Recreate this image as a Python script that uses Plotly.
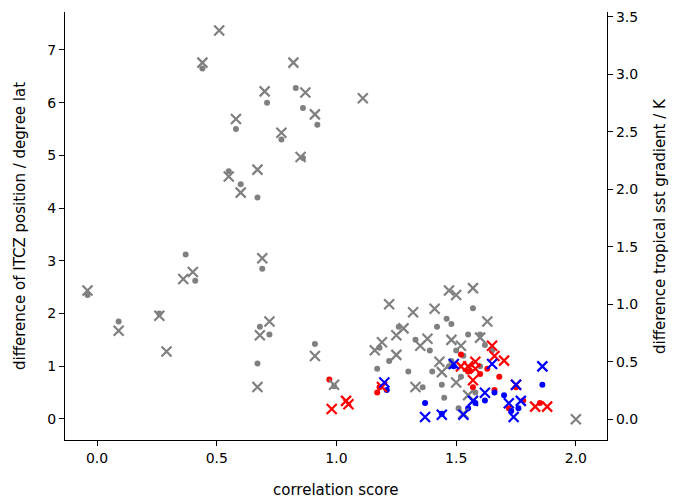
import plotly.graph_objects as go

# dots: ITCZ position difference (left axis)
gray_dot_x = [-0.04, 0.09, 0.26, 0.37, 0.41, 0.44, 0.55, 0.58, 0.60, 0.67, 0.67, 0.68, 0.71, 0.72, 0.69,
              0.77, 0.83, 0.86, 0.86, 0.92, 0.91, 0.99, 1.17, 1.18, 1.22, 1.26, 1.30, 1.33, 1.36, 1.39,
              1.42, 1.44, 1.46, 1.47, 1.48, 1.50, 1.52, 1.53, 1.55, 1.57, 1.58, 1.60, 1.62, 1.65, 1.48,
              1.51, 1.40, 1.45, 1.60, 1.55]
gray_dot_y = [2.35, 1.85, 2.0, 3.12, 2.62, 6.65, 4.7, 5.5, 4.45, 4.2, 1.05, 1.75, 6.0, 1.6, 2.85,
              5.3, 6.28, 5.9, 4.95, 5.58, 1.42, 0.62, 0.95, 1.35, 1.1, 1.75, 0.9, 1.5, 0.6, 1.3,
              1.75, 0.65, 1.9, 1.0, 1.8, 1.3, 0.8, 1.2, 1.6, 2.1, 0.5, 1.0, 1.4, 1.3, 1.1,
              0.2, 0.9, 0.4, 1.6, 0.9]
red_dot_x = [0.97, 1.17, 1.18, 1.52, 1.55, 1.60, 1.63, 1.68, 1.72, 1.75, 1.78, 1.85, 1.57, 1.66]
red_dot_y = [0.75, 0.5, 0.6, 1.22, 0.9, 0.85, 0.95, 0.8, 0.2, 0.6, 0.35, 0.3, 0.6, 0.55]
blue_dot_x = [1.37, 1.44, 1.49, 1.55, 1.58, 1.62, 1.66, 1.70, 1.73, 1.76, 1.86, 1.21]
blue_dot_y = [0.3, 0.1, 1.0, 0.2, 0.3, 0.35, 0.5, 0.45, 0.15, 0.2, 0.65, 0.55]

# crosses: tropical sst gradient difference (right axis)
gray_x_x = [-0.04, 0.09, 0.26, 0.29, 0.36, 0.40, 0.44, 0.51, 0.55, 0.58, 0.60, 0.67, 0.67, 0.69, 0.70,
            0.72, 0.68, 0.77, 0.82, 0.85, 0.87, 0.91, 0.91, 0.99, 1.11, 1.16, 1.19, 1.22, 1.25, 1.25,
            1.28, 1.32, 1.33, 1.35, 1.38, 1.41, 1.43, 1.44, 1.47, 1.48, 1.50, 1.52, 1.55, 1.57, 1.60,
            1.63, 1.50, 1.53, 2.0]
gray_x_y = [1.12, 0.77, 0.9, 0.59, 1.22, 1.28, 3.1, 3.38, 2.11, 2.61, 1.97, 2.17, 0.28, 1.4, 2.85,
            0.85, 0.73, 2.49, 3.1, 2.28, 2.84, 2.65, 0.55, 0.3, 2.79, 0.6, 0.67, 1.0, 0.73, 0.56,
            0.79, 0.93, 0.28, 0.64, 0.7, 0.96, 0.5, 0.41, 1.12, 0.69, 0.32, 0.64, 0.21, 1.14, 0.71,
            0.85, 1.08, 0.05, 0.0]
red_x_x = [0.98, 1.04, 1.05, 1.19, 1.52, 1.55, 1.57, 1.58, 1.65, 1.66, 1.70, 1.75, 1.83, 1.88, 1.58]
red_x_y = [0.09, 0.16, 0.13, 0.28, 0.46, 0.46, 0.34, 0.5, 0.64, 0.55, 0.51, 0.3, 0.11, 0.11, 0.44]
blue_x_x = [1.20, 1.37, 1.44, 1.49, 1.53, 1.57, 1.62, 1.65, 1.72, 1.74, 1.75, 1.77, 1.86]
blue_x_y = [0.32, 0.02, 0.04, 0.48, 0.04, 0.16, 0.23, 0.48, 0.14, 0.02, 0.3, 0.16, 0.46]

fig = go.Figure()
for xs, ys, c in [(gray_dot_x, gray_dot_y, 'grey'), (red_dot_x, red_dot_y, 'red'), (blue_dot_x, blue_dot_y, 'blue')]:
    fig.add_trace(go.Scatter(x=xs, y=ys, mode='markers', marker=dict(color=c, size=6), showlegend=False))
for xs, ys, c in [(gray_x_x, gray_x_y, 'grey'), (red_x_x, red_x_y, 'red'), (blue_x_x, blue_x_y, 'blue')]:
    fig.add_trace(go.Scatter(x=xs, y=ys, mode='markers', yaxis='y2', showlegend=False,
                             marker=dict(color=c, size=10, symbol='x-thin', line=dict(color=c, width=2.2))))

ax = dict(showline=True, linecolor='black', linewidth=1.2, ticks='outside', ticklen=5,
          tickcolor='black', showgrid=False, zeroline=False, tickfont=dict(size=14), automargin=False)
fig.update_layout(
    width=669, height=491, margin=dict(l=57, r=70, t=4, b=59),
    plot_bgcolor='white', paper_bgcolor='white',
    font=dict(family='DejaVu Sans', color='black', size=14),
    xaxis=dict(ax, range=[-0.134, 2.13], tickvals=[0, 0.5, 1, 1.5, 2], ticktext=['0.0', '0.5', '1.0', '1.5', '2.0']),
    yaxis=dict(ax, range=[-0.4, 7.72], dtick=1),
    yaxis2=dict(ax, range=[-0.18, 3.54], overlaying='y', side='right', dtick=0.5, tickformat='.1f'),
)
tf = dict(size=15)
fig.add_annotation(text='correlation score', xref='paper', yref='paper', x=0.5, y=0,
                   yanchor='middle', yshift=-50, showarrow=False, font=tf)
fig.add_annotation(text='difference of ITCZ position / degree lat', xref='paper', yref='paper', x=0, y=0.5,
                   xanchor='center', xshift=-45, textangle=-90, showarrow=False, font=tf)
fig.add_annotation(text='difference tropical sst gradient / K', xref='paper', yref='paper', x=1, y=0.5,
                   xanchor='center', xshift=53, textangle=-90, showarrow=False, font=tf)
fig.write_html("out.html")
